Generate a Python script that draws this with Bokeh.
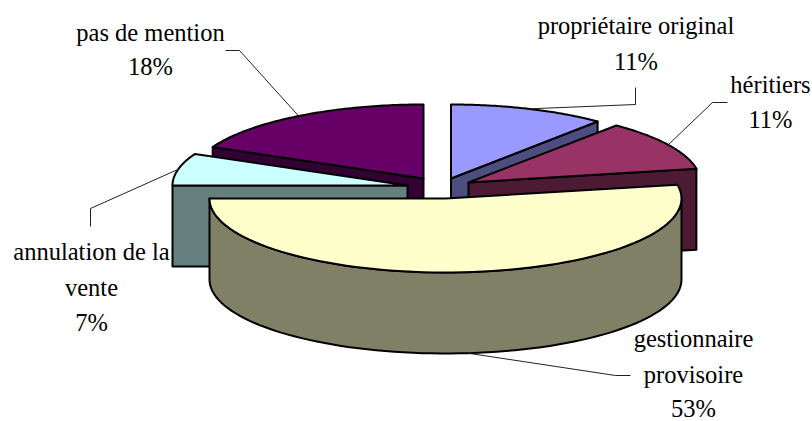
import numpy as np
from bokeh.plotting import figure
from bokeh.models import Range1d
from bokeh.core.properties import value
from bokeh.embed import file_html
from bokeh.resources import INLINE

# ---- data ----
categories = ["propriétaire original", "héritiers", "gestionnaire provisoire",
              "annulation de la vente", "pas de mention"]
shares = [11, 11, 53, 7, 18]
label_lines = [["propriétaire original", "11%"], ["héritiers", "11%"],
               ["gestionnaire", "provisoire", "53%"],
               ["annulation de la", "vente", "7%"], ["pas de mention", "18%"]]
top_colors = ["#9999ff", "#993366", "#ffffcc", "#ccffff", "#660066"]
side_colors = ["#4d4d80", "#4d1a33", "#808066", "#668080", "#330033"]

# ---- layout of the exploded pie, in page pixels ----
apex_x = [450.5, 468, 445, 407, 423]
apex_y = [178, 182, 198, 185, 178]
radius_x = [230, 232, 236, 235, 233]
radius_y, depth = 74, 81
label_x = [635.5, 770, 693, 91, 150]
label_baselines = [[25, 61], [84, 119], [338, 374, 408], [251, 287, 322], [32, 66]]
elbow_points = [[(635, 104), (635, 87)], [(712, 102), (727, 102)], [(615, 375), (630, 375)],
                [(90, 208), (90, 226)], [(239, 50), (225, 50)]]
FONT = "Liberation Serif"
FONT_SIZE = "24.5px"

p = figure(width=812, height=421, x_range=Range1d(0, 812), y_range=Range1d(421, 0),
           output_backend="svg", toolbar_location=None, min_border=0)
p.axis.visible = False
p.grid.visible = False
p.outline_line_color = None

cum = np.cumsum([0] + shares) / sum(shares) * 360.0


def rim(i, a0, a1, n=80, drop=0.0):
    t = np.radians(np.linspace(a0, a1, n))
    return (apex_x[i] + radius_x[i] * np.sin(t), apex_y[i] - radius_y * np.cos(t) + drop)


def cut_face(i, angle):
    x, y = rim(i, angle, angle, 1)
    xs = [apex_x[i], x[0], x[0], apex_x[i]]
    ys = [apex_y[i], y[0], y[0] + depth, apex_y[i] + depth]
    p.patch(xs, ys, fill_color=side_colors[i], line_color="black", line_width=2, line_join="round")


def top_face(i):
    x, y = rim(i, cum[i], cum[i + 1])
    p.patch(np.r_[apex_x[i], x], np.r_[apex_y[i], y], fill_color=top_colors[i],
            line_color="black", line_width=2, line_join="round")


# back slices first, the large front slice last
cut_face(4, cum[4]); top_face(4)
cut_face(0, cum[1]); top_face(0)
cut_face(3, cum[3]); top_face(3)
cut_face(1, cum[2]); top_face(1)

# outer wall of the large slice
x0, y0 = rim(2, 90, 270)
x1, y1 = rim(2, 270, 90, drop=depth)
p.patch(np.r_[x0, x1], np.r_[y0, y1], fill_color=side_colors[2], line_color="black",
        line_width=2, line_join="round")
top_face(2)

# leader lines from the middle of each slice's rim
for i in range(len(shares)):
    mid = (cum[i] + cum[i + 1]) / 2
    drop = depth if 90 < mid < 270 else 0.0
    sx, sy = rim(i, mid, mid, 1, drop)
    xs = [sx[0]] + [e[0] for e in elbow_points[i]]
    ys = [sy[0]] + [e[1] for e in elbow_points[i]]
    p.line(xs, ys, line_color="#222222", line_width=1)

# labels
for i, lines in enumerate(label_lines):
    p.text(x=[label_x[i]] * len(lines), y=label_baselines[i], text=lines,
           text_font=value(FONT), text_font_size=value(FONT_SIZE), text_color="black",
           text_align="center", text_baseline="alphabetic")

open("out.html", "w").write(file_html(p, INLINE))
